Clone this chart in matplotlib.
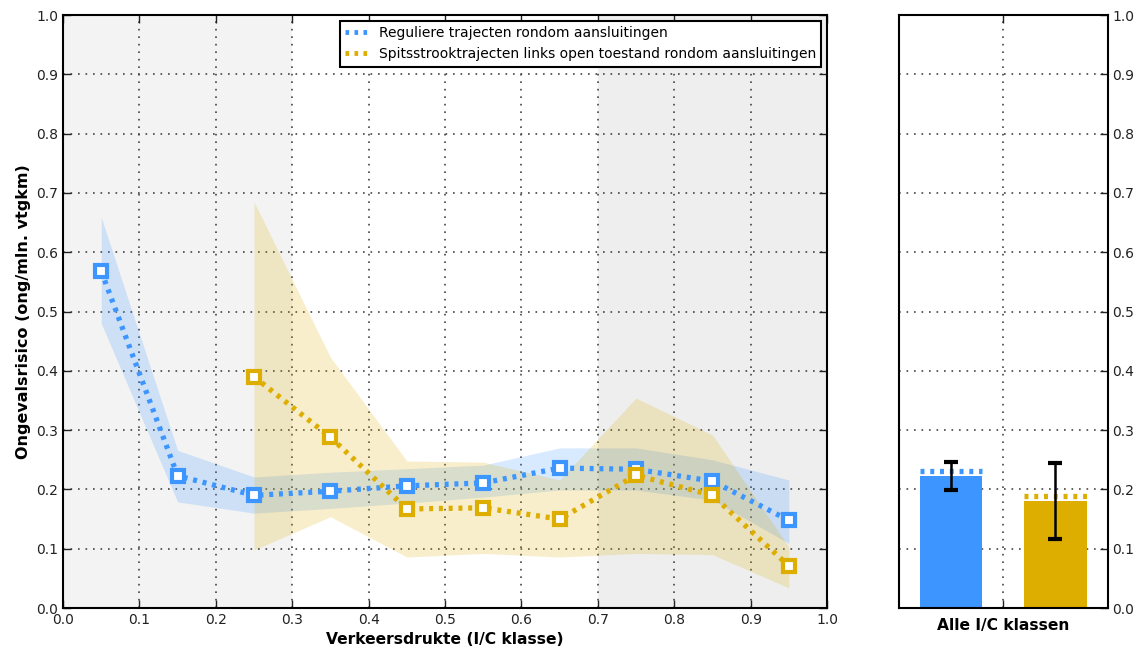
import matplotlib
matplotlib.use("Agg")
import matplotlib.pyplot as plt
import numpy as np

plt.rcParams["font.family"] = ["DejaVu Sans"]

# ── data ────────────────────────────────────────────────────────────────
ic_klasse = [0.05, 0.15, 0.25, 0.35, 0.45, 0.55, 0.65, 0.75, 0.85, 0.95]

regulier      = [0.568, 0.223, 0.190, 0.197, 0.206, 0.211, 0.236, 0.234, 0.214, 0.148]
regulier_hoog = [0.659, 0.266, 0.221, 0.229, 0.235, 0.241, 0.270, 0.270, 0.250, 0.216]
regulier_laag = [0.480, 0.179, 0.160, 0.168, 0.177, 0.187, 0.199, 0.199, 0.182, 0.109]

ic_spits   = [0.25, 0.35, 0.45, 0.55, 0.65, 0.75, 0.85, 0.95]
spits      = [0.390, 0.288, 0.167, 0.169, 0.150, 0.224, 0.190, 0.071]
spits_hoog = [0.685, 0.423, 0.248, 0.246, 0.216, 0.354, 0.292, 0.103]
spits_laag = [0.098, 0.154, 0.086, 0.092, 0.086, 0.092, 0.090, 0.034]

labels = ["Reguliere trajecten rondom aansluitingen",
          "Spitsstrooktrajecten links open toestand rondom aansluitingen"]

# totaal over alle I/C klassen
totaal        = [0.222, 0.180]
totaal_gemidd = [0.231, 0.189]
totaal_laag   = [0.199, 0.116]
totaal_hoog   = [0.246, 0.245]

BLAUW = "#3d96ff"
GEEL  = "#ddad00"
STIP  = (0, (0.75, 1.1))     # stippellijn
RASTER = (0, (1, 3.5))       # ijl raster

# ── figuur ──────────────────────────────────────────────────────────────
fig = plt.figure(figsize=(11.42, 6.53), dpi=100)
ax  = fig.add_axes([0.0552, 0.0689, 0.669, 0.908])
ax2 = fig.add_axes([0.787, 0.0689, 0.183, 0.908])

# achtergrondzones
ax.axvspan(0.0, 0.3, color="#f3f3f3", zorder=0, lw=0)
ax.axvspan(0.7, 1.0, color="#eeeeee", zorder=0, lw=0)

ax.fill_between(ic_klasse, regulier_laag, regulier_hoog, color=BLAUW,
                alpha=0.2, lw=0, zorder=2)
ax.fill_between(ic_spits, spits_laag, spits_hoog, color=GEEL,
                alpha=0.2, lw=0, zorder=2)

ax.plot(ic_klasse, regulier, ls=STIP, lw=3.8, color=BLAUW, marker="s", ms=8.5,
        mfc="white", mec=BLAUW, mew=3, zorder=4, label=labels[0])
ax.plot(ic_spits, spits, ls=STIP, lw=3.8, color=GEEL, marker="s", ms=8.5,
        mfc="white", mec=GEEL, mew=3, zorder=4, label=labels[1])

ax.set_xlim(0, 1)
ax.set_ylim(0, 1)
ax.set_xticks(np.arange(0, 1.01, 0.1))
ax.set_yticks(np.arange(0, 1.01, 0.1))
ax.grid(True, color="#444444", ls=RASTER, lw=1.2)
ax.set_axisbelow(True)
ax.tick_params(direction="in", top=True, right=True, length=6, width=1,
               labelsize=10, colors="#222222")
for s in ax.spines.values():
    s.set_linewidth(1.5)
ax.set_xlabel("Verkeersdrukte (I/C klasse)", fontsize=11.2, fontweight="bold")
ax.set_ylabel("Ongevalsrisico (ong/mln. vtgkm)", fontsize=11.5, fontweight="bold")

leg = ax.legend(loc="upper right", fontsize=10, fancybox=False,
                borderaxespad=0.4, handlelength=1.6, framealpha=1)
leg.get_frame().set_edgecolor("black")
leg.get_frame().set_linewidth(1.5)
for line in leg.get_lines():
    line.set_marker("")
    line.set_linewidth(3.5)

# ── rechter paneel ──────────────────────────────────────────────────────
posities = [0.25, 0.75]
kleuren  = [BLAUW, GEEL]
ax2.bar(posities, totaal, width=0.3, color=kleuren, zorder=2)
for p, g, k in zip(posities, totaal_gemidd, kleuren):
    ax2.hlines(g, p - 0.15, p + 0.15, colors=k, linestyles=STIP, lw=3.8, zorder=3)
err_laag = np.array(totaal) - np.array(totaal_laag)
err_hoog = np.array(totaal_hoog) - np.array(totaal)
ax2.errorbar(posities, totaal, yerr=[err_laag, err_hoog], fmt="none",
             ecolor="black", elinewidth=1.8, capsize=5, capthick=3, zorder=4)

ax2.set_xlim(0, 1)
ax2.set_ylim(0, 1)
ax2.set_xticks([0.5])
ax2.set_xticklabels([""])
ax2.set_yticks(np.arange(0, 1.01, 0.1))
ax2.yaxis.tick_right()
ax2.grid(True, color="#444444", ls=RASTER, lw=1.2)
ax2.set_axisbelow(True)
ax2.tick_params(direction="in", top=True, left=False, right=True, length=6,
                width=1, labelsize=10, colors="#222222")
for s in ax2.spines.values():
    s.set_linewidth(1.5)
ax2.set_xlabel("Alle I/C klassen", fontsize=11.2, fontweight="bold")

fig.savefig("out.png", dpi=100)
